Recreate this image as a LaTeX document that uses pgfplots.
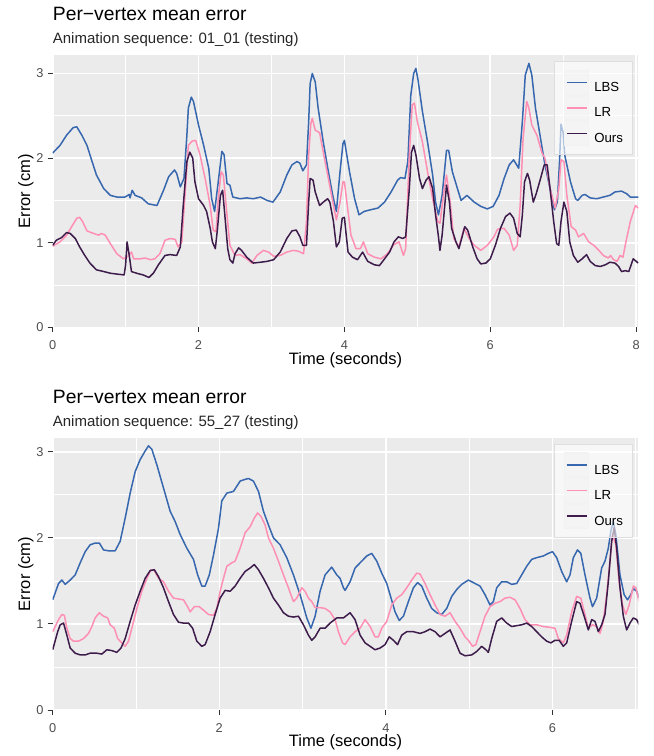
\documentclass[border=0pt]{standalone}
\usepackage{fontspec}
\setmainfont{Liberation Sans}
\usepackage{pgfplots}
\pgfplotsset{compat=1.18}

\definecolor{lbs}{HTML}{3767AE}
\definecolor{lr}{HTML}{FF8FB3}
\definecolor{ours}{HTML}{3D1C4C}
\definecolor{ggpanel}{HTML}{EBEBEB}
\definecolor{ggtick}{HTML}{333333}
\definecolor{gglab}{HTML}{4D4D4D}
\definecolor{ggkey}{HTML}{F2F2F2}
\definecolor{ggframe}{HTML}{DEDEDE}

\pgfplotsset{
  legend image code/.code={
    \fill[ggkey] (0pt,-7pt) rectangle (24pt,17pt);
    \draw[#1, line width=1.6pt] (2pt,5pt) -- (22pt,5pt);
  },
  gg/.style={
    scale only axis, width=585.6pt, height=272.2pt,
    axis background/.style={fill=ggpanel},
    axis line style={draw=none},
    tick pos=left, tick align=outside,
    major tick length=5pt, minor tick length=0pt,
    major tick style={ggtick, line width=0.9pt},
    grid=both,
    major grid style={white, line width=1.6pt},
    minor grid style={white, line width=0.8pt},
    ymin=0, ytick={0,1,2,3}, minor ytick={0.5,1.5,2.5},
    /pgf/number format/assume math mode=true,
    tick label style={font=\fontsize{12.8}{13}\selectfont, text=gglab, inner sep=0pt},
    xticklabel style={anchor=base, yshift=-17.2pt},
    yticklabel style={anchor=east, xshift=-4pt},
    legend cell align=left,
    legend style={at={(0.9898,0.979)}, anchor=north east, fill=white,
      fill opacity=0.6, draw opacity=1, text opacity=1, draw=ggframe,
      line width=0.8pt, font=\fontsize{13.2}{14}\selectfont,
      inner xsep=9pt, inner ysep=8.5pt, row sep=0pt,
      nodes={inner sep=0pt, outer sep=0pt},
      /tikz/every odd column/.append style={column sep=5pt}},
    every axis plot/.append style={line width=1.5pt, line join=round},
  }
}

\begin{document}
\begin{tikzpicture}
\path[use as bounding box] (0,0) rectangle (654pt,756pt);

% top panel: 01_01
\begin{axis}[gg, at={(52.7pt,428.6pt)}, anchor=south west,
  xmin=0, xmax=8.03, ymax=3.216, xtick={0,2,4,6,8}, minor xtick={1,3,5,7}]
\addplot[lbs] coordinates {
(0,2.06)(0.1,2.15)(0.19,2.27)(0.28,2.36)(0.33,2.37)(0.4,2.27)(0.47,2.15)(0.54,1.96)(0.6,1.8)(0.7,1.64)(0.79,1.56)(0.88,1.54)(0.99,1.54)(1.05,1.57)(1.06,1.53)(1.09,1.62)(1.13,1.56)(1.22,1.53)(1.31,1.46)(1.43,1.44)(1.52,1.62)(1.59,1.78)(1.67,1.86)(1.7,1.82)(1.75,1.66)(1.8,1.76)(1.84,2.27)(1.86,2.59)(1.9,2.72)(1.93,2.67)(2.0,2.39)(2.07,2.15)(2.14,1.88)(2.18,1.52)(2.22,1.37)(2.27,1.72)(2.32,2.08)(2.35,2.04)(2.39,1.7)(2.43,1.68)(2.47,1.54)(2.57,1.52)(2.66,1.53)(2.75,1.52)(2.85,1.54)(2.94,1.5)(3.02,1.48)(3.12,1.6)(3.21,1.8)(3.28,1.92)(3.35,1.96)(3.39,1.94)(3.43,1.85)(3.48,1.92)(3.51,2.43)(3.53,2.88)(3.56,3.0)(3.6,2.9)(3.64,2.59)(3.71,2.19)(3.78,1.84)(3.84,1.56)(3.89,1.37)(3.94,1.84)(3.98,2.17)(4.0,2.21)(4.07,1.84)(4.14,1.52)(4.2,1.33)(4.27,1.37)(4.36,1.39)(4.46,1.41)(4.55,1.48)(4.64,1.6)(4.73,1.74)(4.77,1.77)(4.83,1.76)(4.87,1.96)(4.91,2.74)(4.95,3.0)(4.98,3.06)(5.01,2.92)(5.07,2.55)(5.14,2.19)(5.21,1.8)(5.25,1.48)(5.29,1.33)(5.34,1.56)(5.4,2.09)(5.43,2.09)(5.48,1.84)(5.55,1.64)(5.6,1.5)(5.68,1.56)(5.78,1.48)(5.87,1.43)(5.96,1.4)(6.04,1.43)(6.12,1.56)(6.19,1.76)(6.26,1.92)(6.32,1.98)(6.39,1.88)(6.44,2.43)(6.48,2.98)(6.53,3.12)(6.57,2.98)(6.62,2.59)(6.69,2.23)(6.75,1.92)(6.82,1.64)(6.88,1.39)(6.92,1.48)(6.95,1.96)(6.97,2.4)(7.0,2.3)(7.02,2.04)(7.1,1.72)(7.17,1.52)(7.2,1.5)(7.26,1.56)(7.3,1.57)(7.37,1.53)(7.46,1.52)(7.55,1.54)(7.64,1.56)(7.71,1.6)(7.8,1.61)(7.87,1.58)(7.92,1.54)(8.03,1.54)
};
\addplot[lr] coordinates {
(0,0.96)(0.1,1.01)(0.19,1.09)(0.26,1.19)(0.33,1.29)(0.37,1.3)(0.41,1.25)(0.47,1.14)(0.56,1.11)(0.63,1.09)(0.67,1.11)(0.72,1.09)(0.79,0.99)(0.88,0.87)(0.97,0.81)(1.03,0.84)(1.08,0.89)(1.11,0.81)(1.2,0.81)(1.27,0.82)(1.34,0.8)(1.4,0.81)(1.47,0.87)(1.54,1.03)(1.61,1.05)(1.68,1.04)(1.72,0.95)(1.77,1.01)(1.82,1.64)(1.86,2.15)(1.91,2.2)(1.96,2.21)(2.02,2.04)(2.09,1.76)(2.16,1.44)(2.2,1.15)(2.24,1.13)(2.27,1.52)(2.31,1.84)(2.34,1.8)(2.39,1.33)(2.43,0.97)(2.5,0.85)(2.57,0.86)(2.66,0.81)(2.73,0.76)(2.8,0.85)(2.89,0.91)(2.96,0.89)(3.03,0.84)(3.12,0.85)(3.21,0.89)(3.3,0.91)(3.37,0.9)(3.44,0.87)(3.48,1.25)(3.51,2.04)(3.54,2.41)(3.56,2.47)(3.6,2.33)(3.66,2.3)(3.71,2.07)(3.78,1.76)(3.85,1.44)(3.89,1.27)(3.94,1.48)(3.98,1.72)(4.0,1.72)(4.05,1.37)(4.09,1.09)(4.16,0.93)(4.22,0.93)(4.26,1.01)(4.32,0.87)(4.41,0.83)(4.5,0.81)(4.59,0.87)(4.68,0.98)(4.75,1.01)(4.81,0.85)(4.84,0.93)(4.89,2.04)(4.93,2.63)(4.96,2.65)(5.0,2.43)(5.07,2.19)(5.14,1.84)(5.21,1.52)(5.28,1.25)(5.31,1.23)(5.37,1.64)(5.4,1.8)(5.45,1.48)(5.5,1.05)(5.57,0.95)(5.64,1.17)(5.71,1.05)(5.78,0.97)(5.87,0.91)(5.96,0.97)(6.05,1.07)(6.1,1.16)(6.19,1.17)(6.26,1.09)(6.32,0.91)(6.37,0.97)(6.41,1.44)(6.45,2.23)(6.5,2.67)(6.53,2.59)(6.57,2.39)(6.64,2.27)(6.71,2.06)(6.75,2.0)(6.82,1.64)(6.89,1.41)(6.94,1.64)(6.97,1.98)(7.01,1.96)(7.05,1.56)(7.11,1.19)(7.17,1.15)(7.21,1.07)(7.28,1.11)(7.35,1.01)(7.42,0.97)(7.49,0.91)(7.55,0.85)(7.62,0.82)(7.65,0.85)(7.69,0.8)(7.74,0.78)(7.78,0.85)(7.82,0.83)(7.86,1.01)(7.92,1.25)(7.99,1.44)(8.03,1.41)
};
\addplot[ours] coordinates {
(0,0.97)(0.05,1.03)(0.12,1.06)(0.19,1.12)(0.24,1.11)(0.31,1.05)(0.37,0.95)(0.44,0.85)(0.51,0.76)(0.6,0.68)(0.7,0.66)(0.79,0.64)(0.88,0.63)(0.98,0.62)(1.0,0.74)(1.02,1.01)(1.05,0.85)(1.08,0.66)(1.15,0.64)(1.24,0.62)(1.32,0.59)(1.38,0.64)(1.45,0.74)(1.54,0.85)(1.61,0.86)(1.7,0.85)(1.75,0.95)(1.79,1.44)(1.84,1.96)(1.88,2.07)(1.92,2.0)(1.95,1.72)(2.0,1.52)(2.07,1.44)(2.11,1.37)(2.16,1.17)(2.19,1.01)(2.23,0.93)(2.26,1.17)(2.3,1.56)(2.33,1.62)(2.36,1.33)(2.4,0.93)(2.43,0.8)(2.47,0.76)(2.5,0.87)(2.55,0.94)(2.59,0.91)(2.66,0.83)(2.75,0.76)(2.85,0.77)(2.94,0.78)(3.03,0.8)(3.12,0.89)(3.21,1.05)(3.28,1.14)(3.34,1.15)(3.39,1.07)(3.43,0.97)(3.48,0.97)(3.51,1.48)(3.53,1.76)(3.57,1.74)(3.6,1.6)(3.66,1.44)(3.71,1.48)(3.77,1.52)(3.8,1.48)(3.85,1.25)(3.89,0.95)(3.93,1.01)(3.97,1.29)(4.0,1.3)(4.02,1.13)(4.05,0.89)(4.11,0.83)(4.18,0.8)(4.25,0.89)(4.32,0.78)(4.41,0.74)(4.48,0.73)(4.55,0.81)(4.62,0.89)(4.68,1.01)(4.74,1.07)(4.8,1.05)(4.84,1.07)(4.89,1.64)(4.92,2.07)(4.95,2.15)(4.98,2.04)(5.03,1.76)(5.07,1.64)(5.12,1.74)(5.16,1.78)(5.21,1.64)(5.25,1.33)(5.29,1.07)(5.31,0.91)(5.34,1.09)(5.38,1.48)(5.4,1.68)(5.44,1.48)(5.47,1.17)(5.53,1.01)(5.57,0.93)(5.62,1.09)(5.65,1.19)(5.69,1.15)(5.76,0.95)(5.82,0.81)(5.87,0.75)(5.94,0.76)(6.0,0.81)(6.07,0.97)(6.14,1.17)(6.21,1.31)(6.27,1.35)(6.32,1.29)(6.37,1.11)(6.41,1.07)(6.44,1.33)(6.47,1.72)(6.51,1.82)(6.54,1.74)(6.59,1.48)(6.63,1.58)(6.69,1.76)(6.74,1.92)(6.78,1.92)(6.82,1.64)(6.87,1.25)(6.91,0.99)(6.94,0.97)(6.97,1.25)(7.01,1.48)(7.05,1.37)(7.09,1.01)(7.14,0.85)(7.2,0.77)(7.26,0.81)(7.32,0.86)(7.37,0.78)(7.44,0.73)(7.51,0.72)(7.58,0.74)(7.64,0.77)(7.71,0.76)(7.76,0.72)(7.8,0.66)(7.85,0.67)(7.9,0.66)(7.96,0.81)(8.03,0.76)
};
\legend{LBS,LR,Ours}
\end{axis}

% bottom panel: 55_27
\begin{axis}[gg, at={(52.7pt,46pt)}, anchor=south west,
  xmin=0, xmax=7.03, ymax=3.163, xtick={0,2,4,6}, minor xtick={1,3,5,7}]
\addplot[lbs] coordinates {
(0,1.28)(0.07,1.47)(0.11,1.51)(0.15,1.46)(0.21,1.51)(0.27,1.57)(0.33,1.71)(0.39,1.84)(0.45,1.92)(0.51,1.94)(0.56,1.94)(0.61,1.86)(0.67,1.85)(0.75,1.85)(0.81,1.96)(0.87,2.23)(0.93,2.52)(0.99,2.77)(1.05,2.91)(1.11,3.01)(1.15,3.07)(1.19,3.03)(1.25,2.85)(1.33,2.58)(1.41,2.31)(1.47,2.19)(1.53,2.04)(1.61,1.88)(1.69,1.75)(1.74,1.57)(1.79,1.44)(1.83,1.44)(1.88,1.57)(1.93,1.8)(1.99,2.11)(2.03,2.43)(2.09,2.52)(2.17,2.54)(2.25,2.66)(2.31,2.68)(2.35,2.69)(2.41,2.66)(2.47,2.54)(2.53,2.31)(2.59,2.15)(2.65,2.0)(2.73,1.92)(2.81,1.77)(2.89,1.57)(2.97,1.34)(3.05,1.07)(3.1,0.95)(3.15,1.09)(3.21,1.38)(3.27,1.57)(3.35,1.66)(3.41,1.57)(3.45,1.53)(3.49,1.42)(3.51,1.39)(3.57,1.49)(3.63,1.65)(3.71,1.73)(3.77,1.79)(3.83,1.82)(3.89,1.73)(3.95,1.59)(4.01,1.47)(4.05,1.34)(4.11,1.14)(4.16,1.04)(4.21,1.09)(4.27,1.26)(4.33,1.42)(4.38,1.48)(4.43,1.44)(4.49,1.3)(4.55,1.18)(4.61,1.13)(4.67,1.11)(4.73,1.18)(4.79,1.32)(4.85,1.4)(4.91,1.46)(4.99,1.51)(5.05,1.48)(5.13,1.44)(5.19,1.34)(5.25,1.22)(5.29,1.26)(5.33,1.42)(5.39,1.49)(5.45,1.49)(5.51,1.46)(5.57,1.47)(5.63,1.57)(5.69,1.67)(5.75,1.75)(5.81,1.77)(5.89,1.79)(5.95,1.82)(6.0,1.84)(6.05,1.77)(6.11,1.61)(6.17,1.49)(6.21,1.57)(6.25,1.77)(6.3,1.86)(6.34,1.82)(6.39,1.57)(6.45,1.3)(6.48,1.2)(6.53,1.3)(6.59,1.65)(6.63,1.73)(6.67,1.88)(6.7,2.08)(6.73,2.19)(6.76,2.04)(6.81,1.57)(6.86,1.34)(6.9,1.28)(6.94,1.34)(6.97,1.41)(7.01,1.38)(7.04,1.3)
};
\addplot[lr] coordinates {
(0,0.91)(0.07,1.05)(0.11,1.11)(0.14,1.1)(0.17,0.95)(0.21,0.83)(0.25,0.8)(0.31,0.8)(0.37,0.83)(0.43,0.89)(0.47,0.97)(0.51,1.07)(0.56,1.13)(0.61,1.09)(0.66,1.07)(0.69,0.99)(0.74,0.95)(0.78,0.83)(0.83,0.78)(0.87,0.74)(0.91,0.8)(0.95,0.95)(1.01,1.18)(1.07,1.38)(1.13,1.53)(1.18,1.63)(1.22,1.62)(1.27,1.53)(1.33,1.49)(1.39,1.38)(1.45,1.3)(1.51,1.29)(1.57,1.28)(1.62,1.2)(1.65,1.14)(1.7,1.2)(1.76,1.2)(1.81,1.16)(1.87,1.11)(1.93,1.1)(1.97,1.18)(2.01,1.38)(2.05,1.53)(2.09,1.67)(2.15,1.71)(2.19,1.73)(2.25,1.88)(2.31,2.06)(2.37,2.13)(2.42,2.23)(2.46,2.29)(2.5,2.25)(2.55,2.15)(2.59,2.0)(2.65,1.88)(2.71,1.73)(2.77,1.57)(2.83,1.42)(2.89,1.26)(2.93,1.3)(2.99,1.42)(3.03,1.38)(3.07,1.3)(3.11,1.26)(3.15,1.19)(3.21,1.19)(3.27,1.18)(3.33,1.14)(3.39,1.05)(3.43,0.91)(3.48,0.78)(3.51,0.76)(3.57,0.85)(3.63,0.91)(3.69,0.95)(3.75,1.05)(3.81,0.97)(3.87,0.85)(3.91,0.85)(3.95,0.95)(4.01,1.03)(4.07,1.22)(4.13,1.3)(4.19,1.34)(4.25,1.42)(4.31,1.51)(4.37,1.59)(4.41,1.58)(4.47,1.47)(4.53,1.34)(4.59,1.22)(4.65,1.11)(4.71,1.09)(4.77,1.13)(4.83,1.03)(4.89,0.95)(4.95,0.85)(4.99,0.81)(5.04,0.74)(5.08,0.76)(5.13,0.91)(5.19,1.09)(5.25,1.2)(5.31,1.24)(5.37,1.26)(5.43,1.3)(5.49,1.31)(5.55,1.28)(5.61,1.18)(5.67,1.05)(5.73,0.99)(5.81,0.99)(5.89,0.97)(5.97,0.96)(6.03,0.95)(6.07,0.83)(6.13,0.78)(6.17,0.87)(6.23,1.14)(6.29,1.32)(6.34,1.3)(6.39,1.11)(6.43,0.95)(6.48,0.99)(6.53,0.97)(6.57,0.89)(6.61,1.03)(6.65,1.34)(6.69,1.73)(6.72,2.04)(6.76,1.92)(6.8,1.49)(6.84,1.22)(6.88,1.11)(6.92,1.22)(6.97,1.44)(7.0,1.42)(7.04,1.26)
};
\addplot[ours] coordinates {
(0,0.7)(0.06,0.91)(0.09,0.99)(0.13,1.01)(0.17,0.87)(0.21,0.72)(0.27,0.66)(0.33,0.64)(0.39,0.64)(0.45,0.66)(0.53,0.66)(0.59,0.65)(0.65,0.7)(0.71,0.69)(0.77,0.67)(0.82,0.72)(0.87,0.83)(0.93,1.03)(0.99,1.22)(1.05,1.38)(1.11,1.53)(1.17,1.62)(1.22,1.63)(1.27,1.55)(1.33,1.42)(1.39,1.26)(1.45,1.11)(1.51,1.02)(1.57,1.01)(1.63,1.01)(1.68,0.95)(1.73,0.8)(1.79,0.74)(1.83,0.76)(1.89,0.91)(1.95,1.11)(2.01,1.3)(2.07,1.39)(2.13,1.38)(2.19,1.44)(2.25,1.53)(2.31,1.61)(2.37,1.65)(2.42,1.69)(2.47,1.63)(2.53,1.53)(2.59,1.42)(2.65,1.3)(2.71,1.22)(2.77,1.13)(2.83,1.09)(2.89,1.08)(2.95,1.09)(3.01,0.99)(3.07,0.87)(3.11,0.81)(3.15,0.85)(3.21,0.95)(3.27,0.95)(3.33,1.01)(3.41,1.07)(3.49,1.07)(3.57,1.13)(3.63,1.05)(3.69,0.87)(3.75,0.78)(3.81,0.74)(3.87,0.7)(3.93,0.72)(3.99,0.76)(4.04,0.85)(4.09,0.81)(4.14,0.76)(4.19,0.87)(4.25,0.91)(4.33,0.91)(4.41,0.89)(4.47,0.91)(4.53,0.94)(4.59,0.91)(4.65,0.85)(4.71,0.89)(4.77,0.93)(4.83,0.8)(4.89,0.66)(4.95,0.63)(5.03,0.64)(5.09,0.68)(5.15,0.74)(5.2,0.7)(5.23,0.67)(5.27,0.83)(5.33,1.03)(5.39,1.07)(5.45,1.01)(5.51,0.97)(5.57,0.98)(5.63,0.99)(5.69,1.01)(5.75,0.97)(5.81,0.91)(5.87,0.85)(5.93,0.8)(5.98,0.78)(6.03,0.81)(6.08,0.81)(6.13,0.74)(6.17,0.78)(6.23,1.03)(6.29,1.26)(6.33,1.24)(6.38,1.09)(6.43,0.93)(6.47,1.05)(6.51,1.03)(6.55,0.91)(6.59,0.99)(6.63,1.11)(6.67,1.49)(6.71,1.96)(6.74,2.12)(6.77,1.88)(6.81,1.42)(6.85,1.09)(6.89,0.93)(6.93,1.01)(6.97,1.07)(7.01,1.05)(7.04,0.99)
};
\legend{LBS,LR,Ours}
\end{axis}

% titles and axis titles
\node[anchor=base west, inner sep=0pt, font=\fontsize{19.3}{20}\selectfont] at (52.7pt,735.3pt) {Per−vertex mean error};
\node[anchor=base west, inner sep=0pt, font=\fontsize{15}{16}\selectfont, text=black!85] at (52.7pt,712.7pt) {Animation sequence: 01\_01 (testing)};
\node[anchor=base, inner sep=0pt, font=\fontsize{16.5}{17}\selectfont] at (345.5pt,391.7pt) {Time (seconds)};
\node[anchor=base, rotate=90, inner sep=0pt, font=\fontsize{16.5}{17}\selectfont] at (30pt,564.8pt) {Error (cm)};

\node[anchor=base west, inner sep=0pt, font=\fontsize{19.3}{20}\selectfont] at (52.7pt,352.7pt) {Per−vertex mean error};
\node[anchor=base west, inner sep=0pt, font=\fontsize{15}{16}\selectfont, text=black!85] at (52.7pt,329.3pt) {Animation sequence: 55\_27 (testing)};
\node[anchor=base, inner sep=0pt, font=\fontsize{16.5}{17}\selectfont] at (345.5pt,9.3pt) {Time (seconds)};
\node[anchor=base, rotate=90, inner sep=0pt, font=\fontsize{16.5}{17}\selectfont] at (30pt,182pt) {Error (cm)};
\end{tikzpicture}
\end{document}
